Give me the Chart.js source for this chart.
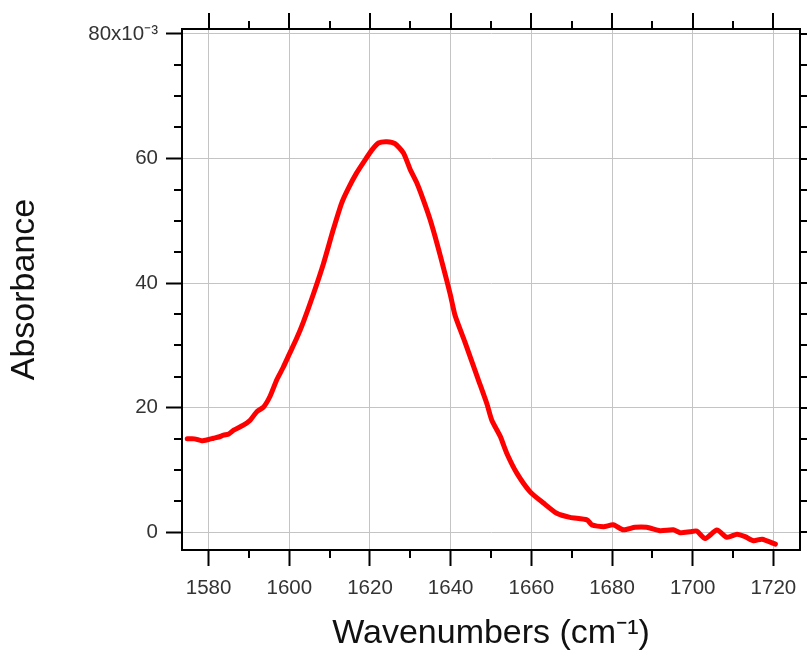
<!DOCTYPE html>
<html>
<head>
<meta charset="utf-8">
<script src="https://cdn.jsdelivr.net/npm/chart.js@4"></script>
<style>
  body { margin: 0; background: #fff; }
</style>
</head>
<body>
<canvas id="myChart" width="807" height="655"></canvas>
<script>
const wavenumbers = [1574.7, 1576.5, 1578.3, 1580.0, 1581.2, 1582.5, 1583.7, 1585.0, 1586.2, 1588.6,
  1590.3, 1592.0, 1593.6, 1595.2, 1596.9, 1598.5, 1600.0, 1601.8, 1603.5, 1606.0,
  1608.5, 1610.9, 1613.0, 1614.7, 1616.7, 1618.8, 1620.5, 1622.1, 1624.2, 1626.2,
  1628.3, 1630.0, 1631.6, 1633.2, 1634.9, 1636.6, 1638.2, 1639.9, 1641.1, 1643.5,
  1646.8, 1649.0, 1650.2, 1652.3, 1653.9, 1656.4, 1659.7, 1663.0, 1666.3, 1669.6,
  1673.8, 1675.0, 1677.9, 1680.3, 1682.8, 1685.7, 1688.6, 1691.9, 1695.2, 1696.9,
  1699.4, 1701.0, 1703.1, 1706.0, 1708.5, 1711.0, 1713.0, 1715.1, 1717.2, 1720.5];
const absorbance = [15.0, 15.0, 14.7, 14.9, 15.1, 15.3, 15.6, 15.8, 16.4, 17.2,
  18.0, 19.4, 20.1, 21.8, 24.5, 26.5, 28.6, 31.1, 33.8, 38.3,
  43.2, 48.6, 52.9, 55.3, 57.7, 59.8, 61.4, 62.5, 62.7, 62.4,
  60.9, 58.2, 56.1, 53.4, 50.2, 46.4, 42.5, 38.2, 34.8, 30.6,
  24.6, 20.6, 18.0, 15.4, 12.7, 9.5, 6.5, 4.7, 3.05, 2.4,
  2.0, 1.2, 0.9, 1.2, 0.4, 0.8, 0.8, 0.26, 0.4, -0.06,
  0.1, 0.2, -1.0, 0.37, -0.8, -0.3, -0.7, -1.35, -1.1, -1.9];
const xMajorTicks = [1580, 1600, 1620, 1640, 1660, 1680, 1700, 1720];
const xMinorTicks = [1590, 1610, 1630, 1650, 1670, 1690, 1710];
const yMajorTicks = [0, 20, 40, 60, 80];
const yMinorTicks = [5, 10, 15, 25, 30, 35, 45, 50, 55, 65, 70, 75];

const FONT = "'Liberation Sans', Arial, sans-serif";

// top/right frame plus minor ticks on every side
const framePlugin = {
  id: 'frame',
  afterDraw(chart) {
    const { ctx, chartArea: a, scales: { x, y } } = chart;
    ctx.save();
    ctx.strokeStyle = '#000';
    ctx.lineWidth = 2;
    ctx.beginPath();
    ctx.moveTo(a.left - 1, a.top);
    ctx.lineTo(a.right, a.top);
    ctx.lineTo(a.right, a.bottom + 1);
    ctx.stroke();
    ctx.beginPath();
    xMajorTicks.forEach(v => {
      const px = Math.round(x.getPixelForValue(v));
      ctx.moveTo(px, a.top); ctx.lineTo(px, a.top - 16);
    });
    xMinorTicks.forEach(v => {
      const px = Math.round(x.getPixelForValue(v));
      ctx.moveTo(px, a.top); ctx.lineTo(px, a.top - 8);
      ctx.moveTo(px, a.bottom); ctx.lineTo(px, a.bottom + 8);
    });
    yMajorTicks.forEach(v => {
      const py = Math.round(y.getPixelForValue(v));
      ctx.moveTo(a.right, py); ctx.lineTo(a.right + 16, py);
    });
    yMinorTicks.forEach(v => {
      const py = Math.round(y.getPixelForValue(v));
      ctx.moveTo(a.left, py); ctx.lineTo(a.left - 8, py);
      ctx.moveTo(a.right, py); ctx.lineTo(a.right + 8, py);
    });
    ctx.stroke();
    ctx.restore();
  }
};

const data = {
  datasets: [{
    label: 'Absorbance',
    data: wavenumbers.map((w, i) => ({ x: w, y: absorbance[i] })),
    showLine: true,
    borderColor: '#ff0000',
    backgroundColor: '#ff0000',
    borderWidth: 5,
    borderJoinStyle: 'round',
    borderCapStyle: 'round',
    pointRadius: 0,
    tension: 0.2
  }]
};

const config = {
  type: 'scatter',
  data,
  options: {
    responsive: false,
    animation: false,
    layout: { padding: { top: 29, right: 7, left: 0, bottom: 0 } },
    plugins: { legend: { display: false }, tooltip: { enabled: false } },
    scales: {
      x: {
        type: 'linear',
        min: 1573.4,
        max: 1726.6,
        afterFit(scale) { scale.height = 105; },
        ticks: {
          stepSize: 20,
          includeBounds: false,
          padding: 10,
          color: '#333',
          font: { family: FONT, size: 20.5 },
          callback: v => v
        },
        grid: { color: '#c4c4c4', lineWidth: 1, tickLength: 16, tickColor: '#000', tickWidth: 2 },
        border: { color: '#000', width: 2 },
        title: {
          display: true,
          text: 'Wavenumbers (cm⁻¹)',
          color: '#111',
          font: { family: FONT, size: 34 },
          padding: { top: 0, bottom: 1 }
        }
      },
      y: {
        min: -2.84,
        max: 80.8,
        afterFit(scale) { scale.width = 182; },
        ticks: {
          stepSize: 20,
          includeBounds: false,
          padding: 8,
          color: '#333',
          font: { family: FONT, size: 20.5 },
          callback: v => v === 80 ? '80x10⁻³' : v
        },
        grid: { color: '#c4c4c4', lineWidth: 1, tickLength: 16, tickColor: '#000', tickWidth: 2 },
        border: { color: '#000', width: 2 },
        title: {
          display: true,
          text: 'Absorbance',
          color: '#111',
          font: { family: FONT, size: 34 },
          padding: { top: 4, bottom: 0 }
        }
      }
    }
  },
  plugins: [framePlugin]
};

const myChart = new Chart(document.getElementById('myChart'), config);
</script>
</body>
</html>
